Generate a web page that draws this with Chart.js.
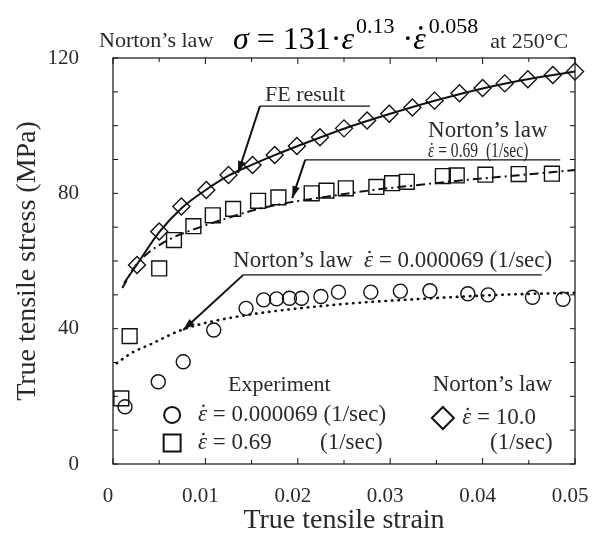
<!DOCTYPE html>
<html>
<head>
<meta charset="utf-8">
<script src="https://cdn.jsdelivr.net/npm/chart.js@4.4.0/dist/chart.umd.min.js"></script>
<style>
  html, body { margin: 0; padding: 0; background: #fff; }
</style>
</head>
<body>
<canvas id="chart" width="595" height="535"></canvas>
<script>
// Experiment, strain rate 0.000069 1/sec (circles)
const expSlowStrain = [0.0013, 0.0049, 0.0076, 0.0109, 0.0144, 0.0163, 0.0177, 0.0191, 0.0204, 0.0225, 0.0244, 0.0279, 0.0311, 0.0343, 0.0384, 0.0406, 0.0454, 0.0487];
const expSlowStress = [16.9, 24.3, 30.2, 39.6, 46.0, 48.5, 48.8, 49.0, 49.0, 49.5, 50.8, 50.8, 51.1, 51.2, 50.3, 50.0, 49.3, 48.7];

// Experiment, strain rate 0.69 1/sec (squares)
const expMidStrain = [0.0009, 0.0018, 0.0050, 0.0066, 0.0087, 0.0108, 0.0130, 0.0157, 0.0179, 0.0215, 0.0231, 0.0252, 0.0285, 0.0302, 0.0318, 0.0357, 0.0372, 0.0403, 0.0439, 0.0475];
const expMidStress = [19.4, 37.8, 57.8, 66.2, 70.3, 73.5, 75.4, 77.8, 78.8, 80.0, 80.8, 81.5, 81.9, 83.0, 83.4, 85.1, 85.3, 85.5, 85.7, 85.8];

// Norton's law, strain rate 10.0 1/sec (diamonds)
const nortonFastStrain = [0.0026, 0.0050, 0.0074, 0.0101, 0.0125, 0.0151, 0.0175, 0.0199, 0.0224, 0.0250, 0.0275, 0.0299, 0.0324, 0.0348, 0.0375, 0.0400, 0.0424, 0.0449, 0.0476, 0.0500];
const nortonFastStress = [58.8, 68.7, 76.1, 81.0, 85.4, 88.4, 91.3, 94.0, 96.6, 99.2, 101.5, 103.5, 105.4, 107.4, 109.6, 111.1, 112.5, 113.7, 115.0, 116.0];

// FE result (solid line)
const feStrain = [0.0012, 0.0026, 0.005, 0.0075, 0.01, 0.0125, 0.015, 0.0175, 0.02, 0.025, 0.03, 0.035, 0.04, 0.045, 0.05];
const feStress = [53.5, 59.0, 68.5, 75.8, 80.9, 85.2, 88.4, 91.3, 94.0, 99.1, 103.5, 107.5, 111.0, 113.8, 116.0];

// Norton's law curve, 0.69 1/sec (dash-dot line)
const nortonMidStrain = [0.001, 0.0024, 0.004, 0.0067, 0.0087, 0.0116, 0.0152, 0.0181, 0.0231, 0.0282, 0.0325, 0.0376, 0.0433, 0.05];
const nortonMidStress = [52.0, 58.5, 62.8, 67.2, 69.3, 72.0, 75.0, 76.8, 79.0, 81.0, 82.3, 83.8, 85.2, 86.9];

// Norton's law curve, 0.000069 1/sec (dotted line)
const nortonSlowStrain = [0.0004, 0.002, 0.004, 0.0076, 0.0127, 0.0238, 0.0346, 0.0419, 0.05];
const nortonSlowStress = [29.8, 32.8, 35.3, 39.8, 43.2, 47.0, 49.0, 50.0, 50.6];

// tick labels
const xTickLabels = ['0', '0.01', '0.02', '0.03', '0.04', '0.05'];
const yTickLabels = [0, 40, 80, 120];

const SERIF = '"Liberation Serif", "Times New Roman", "DejaVu Serif", serif';
const INK = '#111';
const TEXT = '#2a2a2a';

const toPoints = (xs, ys) => xs.map((x, i) => ({ x: x, y: ys[i] }));

// draw a row of text runs; a run with eps:true is an italic epsilon with a dot on top
function drawRuns(ctx, runs, x, y, sx) {
  ctx.save();
  ctx.translate(x, y);
  ctx.scale(sx || 1, 1);
  let cx = 0;
  runs.forEach(r => {
    const dy = r.dy || 0;
    if (r.eps) {
      ctx.font = 'italic ' + r.size + 'px ' + SERIF;
      ctx.fillText('\u03b5', cx, dy);
      const w = ctx.measureText('\u03b5').width;
      ctx.beginPath();
      ctx.arc(cx + w * 0.6, dy - r.size * 0.66, Math.max(1.1, r.size * 0.055), 0, Math.PI * 2);
      ctx.fill();
      cx += w;
      return;
    }
    ctx.font = (r.italic ? 'italic ' : '') + r.size + 'px ' + SERIF;
    ctx.fillText(r.t, cx, dy);
    cx += ctx.measureText(r.t).width;
  });
  ctx.restore();
  return x + cx * (sx || 1);
}

const epsRuns = (rest, size) => [{ eps: true, size: size }, { t: rest, size: size }];

// text notes in data coordinates (left edge, baseline)
const notes = [
  { x: 0.01645, y: 107.3, runs: [{ t: 'FE result', size: 22 }] },
  { x: 0.0341, y: 96.6, runs: [{ t: 'Norton\u2019s law', size: 23 }] },
  { x: 0.0341, y: 90.7, runs: epsRuns(' = 0.69  (1/sec)', 20), sx: 0.78 },
  { x: 0.0130, y: 58.2, runs: [{ t: 'Norton\u2019s law  ', size: 23 }].concat(epsRuns(' = 0.000069 (1/sec)', 23)) },
  { x: 0.01245, y: 21.6, runs: [{ t: 'Experiment', size: 22 }] },
  { x: 0.0092, y: 12.7, runs: epsRuns(' = 0.000069 (1/sec)', 23) },
  { x: 0.0092, y: 4.4, runs: epsRuns(' = 0.69', 23) },
  { x: 0.0224, y: 4.4, runs: [{ t: '(1/sec)', size: 23 }] },
  { x: 0.0346, y: 21.6, runs: [{ t: 'Norton\u2019s law', size: 23 }] },
  { x: 0.0378, y: 11.8, runs: epsRuns(' = 10.0', 23) },
  { x: 0.0408, y: 4.4, runs: [{ t: '(1/sec)', size: 23 }] }
];

// leader lines: underline end, underline start (bend), arrow tip
const leaders = [
  { end: [0.0278, 105.8], bend: [0.0159, 105.8], tip: [0.01353, 86.0] },
  { end: [0.0484, 89.9], bend: [0.0208, 89.9], tip: [0.0194, 78.6] },
  { end: [0.0464, 55.9], bend: [0.0141, 55.9], tip: [0.0076, 39.6] }
];

// legend marker positions
const legendMarks = [
  { x: 0.0064, y: 14.5, style: 'circle', radius: 8 },
  { x: 0.0064, y: 6.2, style: 'rect', radius: 12 },
  { x: 0.0357, y: 13.6, style: 'rectRot', radius: 11 }
];

const framePlugin = {
  id: 'frameTicks',
  beforeDatasetsDraw(chart) {
    const { ctx, chartArea: a, scales } = chart;
    ctx.save();
    ctx.strokeStyle = INK;
    ctx.lineWidth = 1.2;
    ctx.strokeRect(a.left, a.top, a.right - a.left, a.bottom - a.top);
    ctx.lineWidth = 1;
    ctx.beginPath();
    scales.x.ticks.forEach(t => {
      const px = scales.x.getPixelForValue(t.value);
      const major = Math.round(t.value * 1000) % 10 === 0;
      const len = major ? 6 : 4;
      ctx.moveTo(px, a.bottom); ctx.lineTo(px, a.bottom - len);
      ctx.moveTo(px, a.top); ctx.lineTo(px, a.top + len);
    });
    scales.y.ticks.forEach(t => {
      const py = scales.y.getPixelForValue(t.value);
      ctx.moveTo(a.left, py); ctx.lineTo(a.left + 5, py);
      ctx.moveTo(a.right, py); ctx.lineTo(a.right - 5, py);
    });
    ctx.stroke();
    ctx.restore();
  }
};

function arrow(ctx, x1, y1, x2, y2) {
  ctx.beginPath();
  ctx.moveTo(x1, y1);
  ctx.lineTo(x2, y2);
  ctx.stroke();
  const ang = Math.atan2(y2 - y1, x2 - x1), L = 12, W = 3.8;
  ctx.beginPath();
  ctx.moveTo(x2, y2);
  ctx.lineTo(x2 - L * Math.cos(ang) + W * Math.sin(ang), y2 - L * Math.sin(ang) - W * Math.cos(ang));
  ctx.lineTo(x2 - L * Math.cos(ang) - W * Math.sin(ang), y2 - L * Math.sin(ang) + W * Math.cos(ang));
  ctx.closePath();
  ctx.fill();
}

const notesPlugin = {
  id: 'notes',
  afterDraw(chart) {
    const { ctx, scales } = chart;
    const px = v => scales.x.getPixelForValue(v);
    const py = v => scales.y.getPixelForValue(v);
    ctx.save();
    ctx.fillStyle = TEXT;
    ctx.textAlign = 'left';
    ctx.textBaseline = 'alphabetic';
    notes.forEach(n => drawRuns(ctx, n.runs, px(n.x), py(n.y), n.sx));

    ctx.strokeStyle = INK;
    ctx.fillStyle = INK;
    leaders.forEach(l => {
      ctx.lineWidth = 1.2;
      ctx.beginPath();
      ctx.moveTo(px(l.end[0]), py(l.end[1]));
      ctx.lineTo(px(l.bend[0]), py(l.bend[1]));
      ctx.stroke();
      ctx.lineWidth = 2;
      arrow(ctx, px(l.bend[0]), py(l.bend[1]), px(l.tip[0]), py(l.tip[1]));
    });

    ctx.fillStyle = 'rgba(0,0,0,0)';
    legendMarks.forEach(m => {
      Chart.helpers.drawPoint(ctx, { pointStyle: m.style, radius: m.radius, rotation: 0, borderWidth: 1.6 }, px(m.x), py(m.y));
    });

    // title line with the Norton's law formula
    ctx.fillStyle = TEXT;
    drawRuns(ctx, [{ t: 'Norton\u2019s law', size: 22 }], 99, 47);
    ctx.fillStyle = '#000';
    let x = drawRuns(ctx, [
      { t: '\u03c3', italic: true, size: 32 },
      { t: ' = 131\u00b7', size: 32 },
      { t: '\u03b5', italic: true, size: 32 }
    ], 233, 49);
    x = drawRuns(ctx, [{ t: '0.13', size: 22, dy: -16 }], x + 2, 49);
    x = drawRuns(ctx, [
      { t: ' \u00b7', size: 32 },
      { eps: true, size: 32 }
    ], x, 49);
    x = drawRuns(ctx, [{ t: '0.058', size: 22, dy: -16 }], x + 3, 49);
    ctx.fillStyle = TEXT;
    drawRuns(ctx, [{ t: 'at 250\u00b0C', size: 22 }], x + 12, 48);
    ctx.restore();
  }
};

const markerStyle = {
  showLine: false,
  backgroundColor: 'rgba(0,0,0,0)',
  borderColor: INK,
  pointBackgroundColor: 'rgba(0,0,0,0)',
  pointBorderColor: INK,
  pointBorderWidth: 1.4
};

const curveStyle = {
  showLine: true,
  pointRadius: 0,
  borderColor: INK,
  cubicInterpolationMode: 'monotone',
  fill: false
};

new Chart(document.getElementById('chart').getContext('2d'), {
  type: 'scatter',
  data: {
    datasets: [
      { ...curveStyle, label: 'FE result', data: toPoints(feStrain, feStress), borderWidth: 2 },
      { ...curveStyle, label: 'Norton 0.69', data: toPoints(nortonMidStrain, nortonMidStress), borderWidth: 2, borderDash: [9, 4, 2, 4] },
      { ...curveStyle, label: 'Norton 0.000069', data: toPoints(nortonSlowStrain, nortonSlowStress), borderWidth: 2.6, borderDash: [0.5, 6], borderCapStyle: 'round' },
      { ...markerStyle, label: 'Exp 0.000069', data: toPoints(expSlowStrain, expSlowStress), pointStyle: 'circle', pointRadius: 7 },
      { ...markerStyle, label: 'Exp 0.69', data: toPoints(expMidStrain, expMidStress), pointStyle: 'rect', pointRadius: 10.5 },
      { ...markerStyle, label: 'Norton 10.0', data: toPoints(nortonFastStrain, nortonFastStress), pointStyle: 'rectRot', pointRadius: 8.5, clip: false }
    ]
  },
  options: {
    responsive: false,
    animation: false,
    events: [],
    layout: { padding: { top: 58, right: 20, left: 0, bottom: 0 } },
    plugins: {
      legend: { display: false },
      tooltip: { enabled: false }
    },
    scales: {
      x: {
        type: 'linear',
        min: 0,
        max: 0.05,
        grid: { display: false },
        border: { display: false },
        ticks: {
          stepSize: 0.005,
          autoSkip: false,
          maxRotation: 0,
          padding: 12,
          labelOffset: -5,
          color: TEXT,
          font: { family: SERIF, size: 21 },
          callback: v => {
            const k = Math.round(v * 1000);
            return k % 10 === 0 ? xTickLabels[k / 10] : '';
          }
        },
        title: {
          display: true,
          text: 'True tensile strain',
          color: TEXT,
          padding: 0,
          font: { family: SERIF, size: 28, lineHeight: 1 }
        },
        afterFit: s => { s.height = 71; s.paddingLeft = 0; s.paddingRight = 0; }
      },
      y: {
        type: 'linear',
        min: 0,
        max: 120,
        grid: { display: false },
        border: { display: false },
        ticks: {
          stepSize: 10,
          autoSkip: false,
          padding: 26,
          color: TEXT,
          font: { family: SERIF, size: 21 },
          callback: v => yTickLabels.includes(v) ? String(v) : ''
        },
        title: {
          display: true,
          text: 'True tensile stress (MPa)',
          color: TEXT,
          padding: { top: 14, bottom: 0 },
          font: { family: SERIF, size: 28, lineHeight: 1 }
        },
        afterFit: s => { s.width = 113; s.paddingTop = 0; s.paddingBottom = 0; }
      }
    }
  },
  plugins: [framePlugin, notesPlugin]
});
</script>
</body>
</html>
